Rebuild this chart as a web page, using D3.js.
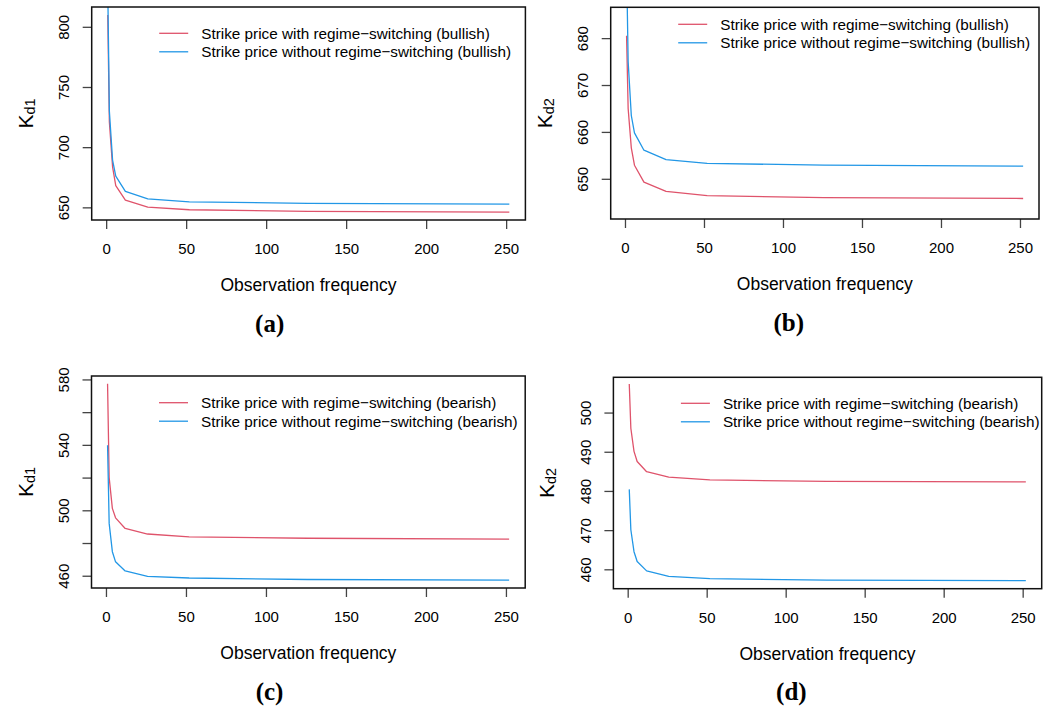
<!DOCTYPE html>
<html>
<head>
<meta charset="utf-8">
<script src="https://cdn.jsdelivr.net/npm/d3@7"></script>
<style>
  html, body { margin: 0; padding: 0; background: #fff; }
  svg { display: block; }
  text { font-family: "Liberation Sans", Arial, Helvetica, sans-serif; fill: #000; }
</style>
</head>
<body>
<svg id="fig" width="1054" height="707"></svg>
<script>
// Observation frequency (number of monitoring dates per year)
const frequency = [1, 2, 4, 6, 12, 26, 52, 126, 252];

// Bullish market, strike K_d1
const bullishKd1With    = [809.9, 721.0, 683.7, 668.0, 656.1, 650.2, 648.0, 646.6, 646.05];
const bullishKd1Without = [832.0, 730.0, 689.3, 676.0, 663.3, 657.1, 654.6, 653.3, 652.7];

// Bullish market, strike K_d2
const bullishKd2With    = [680.5, 665.0, 656.6, 652.9, 649.3, 647.3, 646.4, 646.0, 645.8];
const bullishKd2Without = [696.0, 675.0, 663.5, 659.8, 656.1, 654.1, 653.3, 652.9, 652.7];

// Bearish market, strike K_d1
const bearishKd1With    = [577.3, 520.0, 501.2, 495.4, 488.9, 485.5, 483.8, 482.9, 482.4];
const bearishKd1Without = [539.8, 492.0, 474.7, 468.5, 462.9, 459.6, 458.6, 457.7, 457.3];

// Bearish market, strike K_d2
const bearishKd2With    = [507.3, 496.0, 490.1, 487.5, 484.9, 483.5, 482.8, 482.45, 482.3];
const bearishKd2Without = [480.4, 470.1, 464.5, 462.0, 459.6, 458.2, 457.6, 457.25, 457.1];

// Axis limits (before the usual 4% padding) and ticks
const xLimits = [1, 252];
const xTicks = [0, 50, 100, 150, 200, 250];
const yLimitsA = [646.05, 809.9];
const yLimitsB = [643.1, 684.9];
const yLimitsC = [457.3, 577.3];
const yLimitsD = [457.05, 507.0];
const yTicksA = [650, 700, 750, 800];
const yTicksB = [650, 660, 670, 680];
const yTicksC = [460, 480, 500, 520, 540, 560, 580];
const yTickLabelsC = [460, 500, 540, 580];
const yTicksD = [460, 470, 480, 490, 500];

const legendBullish = ["Strike price with regime\u2212switching (bullish)",
                       "Strike price without regime\u2212switching (bullish)"];
const legendBearish = ["Strike price with regime\u2212switching (bearish)",
                       "Strike price without regime\u2212switching (bearish)"];
const xTitle = "Observation frequency";
const captions = ["(a)", "(b)", "(c)", "(d)"];
const yTitleSubs = ["d1", "d2", "d1", "d2"];

const colWith = "#DF536B";
const colWithout = "#2297E6";

// Plot-box geometry for each panel
const panels = [
  { box: [91.7, 7.0, 525.4, 220.0],   yLim: yLimitsA, yTicks: yTicksA, yLabels: yTicksA,      seriesWith: bullishKd1With, seriesWithout: bullishKd1Without, legend: legendBullish, legendTop: 26.3 },
  { box: [610.7, 7.3, 1039.0, 219.0], yLim: yLimitsB, yTicks: yTicksB, yLabels: yTicksB,      seriesWith: bullishKd2With, seriesWithout: bullishKd2Without, legend: legendBullish, legendTop: 17.0 },
  { box: [91.5, 376.0, 525.2, 588.0], yLim: yLimitsC, yTicks: yTicksC, yLabels: yTickLabelsC, seriesWith: bearishKd1With, seriesWithout: bearishKd1Without, legend: legendBearish, legendTop: 26.7 },
  { box: [613.4, 377.3, 1041.7, 588.7], yLim: yLimitsD, yTicks: yTicksD, yLabels: yTicksD,    seriesWith: bearishKd2With, seriesWithout: bearishKd2Without, legend: legendBearish, legendTop: 26.0 }
];

const pad = lim => {
  const r = lim[1] - lim[0];
  return [lim[0] - 0.04 * r, lim[1] + 0.04 * r];
};

const svg = d3.select("#fig");
svg.append("rect").attr("width", 1054).attr("height", 707).attr("fill", "#fff");

panels.forEach((p, i) => {
  const [x0, y0, x1, y1] = p.box;
  const x = d3.scaleLinear().domain(pad(xLimits)).range([x0, x1]);
  const y = d3.scaleLinear().domain(pad(p.yLim)).range([y1, y0]);

  const g = svg.append("g");
  const clipId = "clip" + i;
  g.append("clipPath").attr("id", clipId)
    .append("rect").attr("x", x0).attr("y", y0).attr("width", x1 - x0).attr("height", y1 - y0);

  // x axis
  const xAxis = d3.axisBottom(x).tickValues(xTicks).tickSize(9).tickSizeOuter(0).tickPadding(10)
    .tickFormat(d3.format("d"));
  const gx = g.append("g").attr("transform", `translate(0,${y1})`).call(xAxis);
  gx.select(".domain").remove();
  gx.selectAll(".tick line").attr("stroke", "#444").attr("stroke-width", 1.3);
  gx.selectAll(".tick text").attr("font-size", 15).attr("dy", null).attr("y", 28.5)
    .attr("dominant-baseline", "central")
    .style("font-family", '"Liberation Sans", Arial, sans-serif');

  // y axis with rotated labels
  const yAxis = d3.axisLeft(y).tickValues(p.yTicks).tickSize(9).tickSizeOuter(0)
    .tickFormat(d => p.yLabels.includes(d) ? String(d) : "");
  const gy = g.append("g").attr("transform", `translate(${x0},0)`).call(yAxis);
  gy.select(".domain").remove();
  gy.selectAll(".tick line").attr("stroke", "#444").attr("stroke-width", 1.3);
  gy.selectAll(".tick text")
    .attr("x", null).attr("dy", null)
    .attr("text-anchor", "middle")
    .attr("dominant-baseline", "central")
    .attr("transform", "translate(-28,0) rotate(-90)")
    .attr("font-size", 15)
    .style("font-family", '"Liberation Sans", Arial, sans-serif');

  // series lines
  const line = d3.line().x((d, j) => x(frequency[j])).y(d => y(d));
  const lines = g.append("g").attr("clip-path", `url(#${clipId})`);
  lines.append("path").datum(p.seriesWith).attr("d", line)
    .attr("fill", "none").attr("stroke", colWith).attr("stroke-width", 1.3).attr("stroke-linejoin", "round");
  lines.append("path").datum(p.seriesWithout).attr("d", line)
    .attr("fill", "none").attr("stroke", colWithout).attr("stroke-width", 1.3).attr("stroke-linejoin", "round");

  // plot box
  g.append("rect").attr("x", x0).attr("y", y0).attr("width", x1 - x0).attr("height", y1 - y0)
    .attr("fill", "none").attr("stroke", "#111").attr("stroke-width", 1.5);

  // legend (no frame)
  const legCols = [colWith, colWithout];
  p.legend.forEach((label, k) => {
    const ly = y0 + p.legendTop + k * 18.5;
    g.append("line").attr("x1", x0 + 67.5).attr("x2", x0 + 96.5).attr("y1", ly).attr("y2", ly)
      .attr("stroke", legCols[k]).attr("stroke-width", 1.3);
    g.append("text").attr("x", x0 + 109.5).attr("y", ly).attr("dominant-baseline", "central")
      .attr("font-size", 15.3).text(label);
  });

  // axis titles
  g.append("text").attr("x", (x0 + x1) / 2).attr("y", y1 + 65).attr("text-anchor", "middle")
    .attr("dominant-baseline", "central").attr("font-size", 17.5).text(xTitle);

  const yt = g.append("text").attr("text-anchor", "middle").attr("dominant-baseline", "central")
    .attr("transform", `translate(${x0 - 67},${(y0 + y1) / 2}) rotate(-90)`)
    .attr("font-size", 21);
  yt.append("tspan").text("K");
  yt.append("tspan").attr("font-size", 14.5).attr("dy", "0.35em").text(yTitleSubs[i]);

  // panel caption
  g.append("text").attr("x", x0 + 178).attr("y", y1 + 103).attr("text-anchor", "middle")
    .attr("dominant-baseline", "central")
    .style("font-family", '"Liberation Serif", "DejaVu Serif", serif')
    .attr("font-weight", "bold").attr("font-size", 25).text(captions[i]);
});
</script>
</body>
</html>
